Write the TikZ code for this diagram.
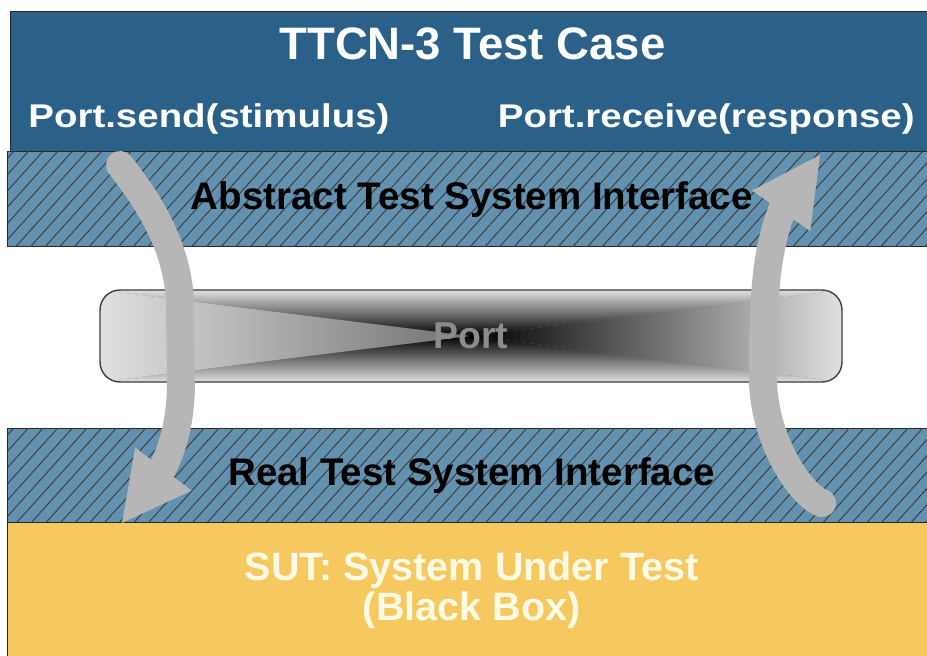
\documentclass[tikz,border=0pt]{standalone}
\usepackage{fontspec}
\setmainfont{Liberation Sans}
\usepackage{xcolor}
\usetikzlibrary{arrows.meta, bending, patterns.meta}
\definecolor{caseblue}{RGB}{43, 96, 136}
\definecolor{bandblue}{RGB}{99, 146, 177}
\definecolor{sutyellow}{RGB}{246, 201, 96}
\definecolor{flowgray}{RGB}{182, 182, 182}
\definecolor{portlight}{RGB}{224, 224, 224}
\definecolor{porttext}{RGB}{140, 140, 140}
\definecolor{suttext}{RGB}{255, 250, 228}

\begin{document}
\begin{tikzpicture}[
    case_box/.style={
        rectangle, draw=black!85, fill=caseblue, line width=0.8pt, anchor=north west, inner sep=0pt
    },
    iface_band/.style={
        rectangle, draw=black!85, fill=bandblue, line width=0.8pt, anchor=north west,
        postaction={pattern={Lines[angle=48, distance=6.2pt, line width=0.6pt]}, pattern color=black!75},
        text=black, font=\fontsize{21.9}{24}\selectfont\bfseries
    },
    port_box/.style={
        rectangle, rounded corners=0.4cm, draw=black!75, line width=0.8pt, fill=gray,
        text=porttext, font=\fontsize{21.3}{24}\selectfont\bfseries,
        path picture={
            \shade[sharp corners, left color=portlight, right color=black]
                (path picture bounding box.north west) -- (path picture bounding box.center)
                -- (path picture bounding box.south west) -- cycle;
            \shade[sharp corners, left color=black, right color=portlight]
                (path picture bounding box.north east) -- (path picture bounding box.center)
                -- (path picture bounding box.south east) -- cycle;
            \shade[sharp corners, top color=portlight, bottom color=black]
                (path picture bounding box.north west) -- (path picture bounding box.north east)
                -- (path picture bounding box.center) -- cycle;
            \shade[sharp corners, top color=black, bottom color=portlight]
                (path picture bounding box.south west) -- (path picture bounding box.south east)
                -- (path picture bounding box.center) -- cycle;
        }
    },
    sut_box/.style={
        rectangle, draw=black!85, fill=sutyellow, line width=0.8pt, anchor=north west,
        align=center, text=suttext, font=\fontsize{22.5}{22.7}\selectfont\bfseries
    },
    title_text/.style={text=white, inner sep=0pt, font=\fontsize{25.9}{28}\selectfont\bfseries},
    call_text/.style={text=white, inner sep=0pt, xscale=1.17, font=\fontsize{18.7}{20}\selectfont\bfseries},
    flow/.style={
        draw=flowgray, line width=0.56cm, line cap=round,
        -{Triangle[flex, length=1.36cm, width=1.42cm, line width=0pt]}
    }
]
    \clip (0, 0) rectangle (18.54, 13.1);

    % Top: TTCN-3 test case with the two port operations
    \node[case_box, minimum width=18.5cm, minimum height=2.8cm] (testcase) at (0.2, 12.88) {};
    \node[title_text, anchor=base] (title) at (9.45, 11.9) {TTCN-3 Test Case};
    \node[call_text, anchor=base west] (send) at (0.56, 10.54) {Port.send(stimulus)};
    \node[call_text, anchor=base east] (receive) at (18.3, 10.54) {Port.receive(response)};

    % Hatched band: abstract interface
    \node[iface_band, minimum width=18.56cm, minimum height=1.9cm] (abstract) at (0.14, 10.08) {Abstract Test System Interface};

    % Middle: the port itself
    \node[port_box, minimum width=14.84cm, minimum height=1.84cm] (port) at (9.42, 6.38) {Port};

    % Hatched band: real interface
    \node[iface_band, minimum width=18.56cm, minimum height=1.88cm] (real) at (0.14, 4.54) {Real Test System Interface};

    % Bottom: system under test
    \node[sut_box, minimum width=18.56cm, minimum height=2.72cm] (sut) at (0.14, 2.66) {SUT: System Under Test\\(Black Box)};

    % --- Stimulus down, response up ---
    \coordinate (send_tail) at (2.4, 9.8);
    \coordinate (send_tip) at (2.44, 2.64);
    \draw[flow] (send_tail) .. controls (2.75, 9.35) and (3.58, 8.3) .. (3.6, 7.0)
        -- (3.62, 5.5) .. controls (3.62, 4.5) and (3.4, 3.6) .. (send_tip);

    \coordinate (resp_tail) at (16.44, 3.04);
    \coordinate (resp_tip) at (16.4, 10.0);
    \draw[flow] (resp_tail) .. controls (16.0, 3.2) and (15.28, 4.3) .. (15.26, 5.5)
        .. controls (15.26, 7.5) and (15.3, 9.0) .. (resp_tip);

\end{tikzpicture}
\end{document}
